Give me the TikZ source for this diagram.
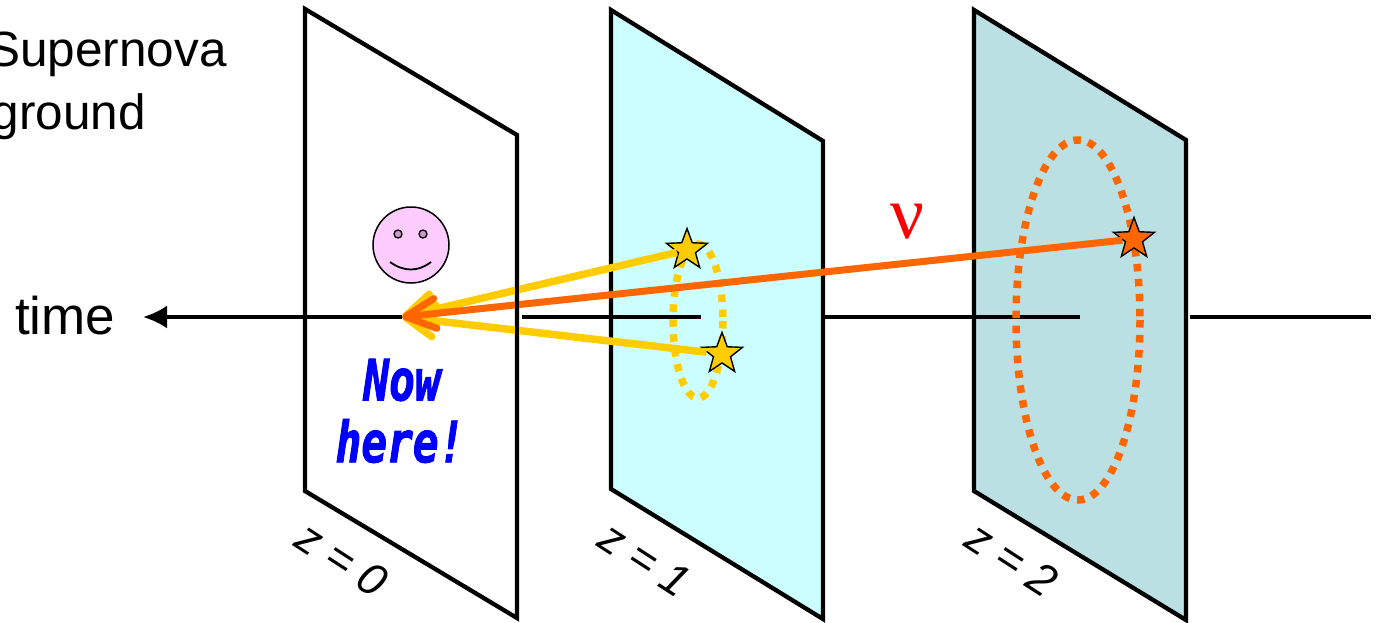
\documentclass[tikz,border=0pt]{standalone}
\usepackage{fontspec}
\setmainfont{Liberation Sans}
\newfontfamily\nowfont[FakeStretch=0.75,FakeBold=1.5]{DejaVu Sans Mono}
\newfontfamily\nufont{Liberation Serif}
\usetikzlibrary{arrows.meta,shapes.geometric}
\definecolor{shellyellow}{HTML}{FFCC00}
\definecolor{rayorange}{HTML}{FF6600}
\definecolor{planecyan}{HTML}{CCFFFF}
\definecolor{planeteal}{HTML}{BBE0E3}
\definecolor{facepink}{HTML}{FFCCFF}
\definecolor{eyemauve}{HTML}{CC99CC}
\tikzset{
    planeline/.style={black, line width=4.3pt, line join=miter},
    axisline/.style={black, line width=3.6pt},
    shellline/.style={line width=7.5pt, dash pattern=on 7.5pt off 7.5pt},
    staricon/.style={star, star points=5, star point ratio=2.4, draw=black, line width=1.4pt, minimum size=43pt, inner sep=0pt},
    bigtext/.style={font=\fontsize{49.5}{54}\selectfont},
    zlabel/.style={font=\fontsize{45}{48}\selectfont\itshape, rotate=-33},
    nowstyle/.style={text=blue, font=\fontsize{57}{60}\selectfont\nowfont\bfseries\itshape},
}

\begin{document}
\begin{tikzpicture}[x=1pt,y=-1pt]
    \useasboundingbox (0,0) rectangle (1377,622);

    % planes
    \foreach \xa/\ya/\xb/\yb/\yc/\yd/\col in {305/9/517/135/618/491/white,611/10/823/141/619/489/planecyan,974/10/1186/140/620/491/planeteal} {
        \draw[planeline, fill=\col] (\xa,\ya) -- (\xb,\yb) -- (\xb,\yc) -- (\xa,\yd) -- cycle;
    }

    % time axis, in pieces
    \coordinate (nowpt) at (402,317);
    \coordinate (tail) at (143,317);
    \foreach \xl/\xr in {522/701,824/1080,1190/1371} {
        \draw[axisline] (\xl,317) -- (\xr,317);
    }
    \draw[axisline, -{Latex[length=24pt,width=23pt]}] (nowpt) -- (tail);

    % shells
    \draw[shellline, shellyellow] (698,321) ellipse (25 and 77);
    \draw[shellline, rayorange] (1078,320) ellipse (62 and 180);

    % observer
    \node[circle, draw=black, line width=1.5pt, fill=facepink, minimum size=76pt, inner sep=0pt] (face) at (411,245) {};
    \foreach \x in {398,423} {
        \draw[black, line width=1.3pt, fill=eyemauve] (\x,234) circle (4);
    }
    \draw[black, line width=1.8pt] (390,262) .. controls (404,272) and (418,272) .. (431,262);

    % sources
    \node[staricon, fill=shellyellow] (staru) at (687,250) {};
    \node[staricon, fill=shellyellow] (starl) at (722,354) {};
    \node[staricon, fill=rayorange] (starf) at (1134,239) {};

    \draw[-{Straight Barb[round,length=28pt,width=32pt]}, shellyellow, line width=7.5pt] (staru) -- (nowpt);
    \draw[-{Straight Barb[round,length=28pt,width=32pt]}, shellyellow, line width=7.5pt] (starl) -- (nowpt);
    \draw[-{Straight Barb[round,length=30pt,width=30pt]}, rayorange, line width=7pt] (starf) -- (nowpt);
    \draw[planeline] (517,135) -- (517,618);

    % labels
    \node[bigtext, anchor=base east, inner sep=0pt] (sntext) at (227,66) {Supernova};
    \node[bigtext, anchor=base east, inner sep=0pt] (gdtext) at (146,129) {ground};
    \node[font=\fontsize{53}{56}\selectfont, anchor=base west, inner sep=0pt] (timetext) at (15,334) {time};
    \node[text=red, font=\fontsize{75}{78}\selectfont\nufont, inner sep=0pt] (nutext) at (907,222) {ν};
    \node[nowstyle, inner sep=0pt] (nowtext) at (402,380) {Now};
    \node[nowstyle, inner sep=0pt] (heretext) at (400,441) {here!};
    \node[zlabel, inner sep=0pt] (zzero) at (342,559) {z = 0};
    \node[zlabel, inner sep=0pt] (zone) at (645,559) {z = 1};
    \node[zlabel, inner sep=0pt] (ztwo) at (1012,559) {z = 2};
\end{tikzpicture}
\end{document}
